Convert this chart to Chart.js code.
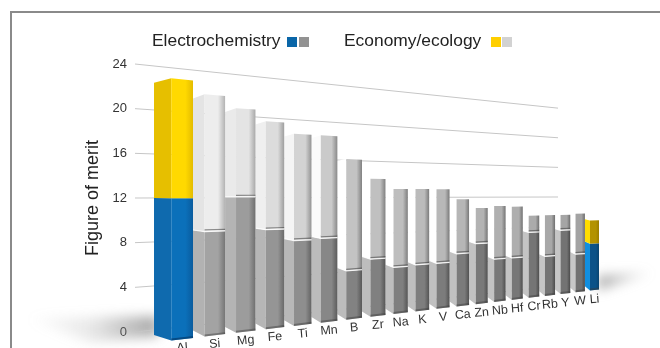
<!DOCTYPE html>
<html>
<head>
<meta charset="utf-8">
<title>Figure of merit</title>
<script src="https://cdn.jsdelivr.net/npm/chart.js@4"></script>
<style>
    html, body { margin: 0; padding: 0; background: #fff; overflow: hidden; }
    canvas { display: block; }
</style>
</head>
<body>
<canvas id="merit_chart" width="660" height="348"></canvas>
<script>
var elements = ['Al', 'Si', 'Mg', 'Fe', 'Ti', 'Mn', 'B', 'Zr', 'Na', 'K', 'V', 'Ca', 'Zn', 'Nb', 'Hf', 'Cr', 'Rb', 'Y', 'W', 'Li'];
var electrochemistry = [12, 9.1, 12.1, 9.1, 8, 8.1, 4.8, 5.8, 4.8, 4.9, 4.9, 5.8, 6.8, 4.9, 4.9, 7.8, 4.8, 7.9, 4.8, 6];
var economy_ecology = [10.1, 11.9, 7.9, 9.9, 10, 9.9, 11, 8.1, 8.1, 8, 8, 6, 4, 6.1, 6, 2, 5, 1.9, 5.1, 3];
var y_ticks_max = 24;
var y_ticks_step = 4;

// perspective: every line runs to one vanishing point on the right
var vanish = { x: 1390, y: 195 };
var wall_left = 135;
var front_scale = 1.094;
var back_edge_scale = 0.948;
var first_right = 193;
var last_right = 599;
var squeeze = 0.545;

function gray(v) {
    v = Math.round(v);
    return 'rgb(' + v + ',' + v + ',' + v + ')';
}

// three gray levels: first bar, around B, last bar
function shade(a, b, c, t) {
    if (t < 0.3) return a + (b - a) * t / 0.3;
    return b + (c - b) * (t - 0.3) / 0.7;
}

function faceColors(i, upper) {
    var t = i / (elements.length - 1);
    if (i == 0) {
        return upper ? { side: '#e6bf00', from: '#ffd900', to: '#e4bc00' }
                     : { side: '#0f6aae', from: '#0b70ba', to: '#0a5c9e' };
    }
    if (i == elements.length - 1) {
        return upper ? { side: '#ffdd00', from: '#b39200', to: '#9a7c00' }
                     : { side: '#118fe0', from: '#0c5288', to: '#0a446f' };
    }
    if (upper) {
        return { side: gray(shade(222, 255, 255, t)), from: gray(shade(246, 196, 160, t)), to: gray(shade(190, 130, 105, t)) };
    }
    return { side: gray(shade(176, 188, 200, t)), from: gray(shade(170, 130, 112, t)), to: gray(shade(124, 88, 72, t)) };
}

var perspective_plugin = {
    id: 'perspective',
    beforeDraw: function (chart) {
        var ctx = chart.ctx;
        ctx.save();
        // panel frame, open on the right and at the bottom
        ctx.strokeStyle = '#8a8a8a';
        ctx.lineWidth = 2;
        ctx.beginPath();
        ctx.moveTo(11, 348);
        ctx.lineTo(11, 12);
        ctx.lineTo(660, 12);
        ctx.stroke();
        ctx.restore();
    },
    beforeDatasetsDraw: function (chart) {
        var ctx = chart.ctx;
        var area = chart.chartArea;
        var y_scale = chart.scales.y;
        var metas = [chart.getDatasetMeta(0), chart.getDatasetMeta(1)];
        var step = metas[0].data[0].width;
        var origin = area.left + step;

        function screenX(px) {
            var u = (px - origin) / (area.right - origin);
            return first_right + (last_right - first_right) * u * (1 + squeeze) / (1 + squeeze * u);
        }
        function wallY(py, x) {
            return vanish.y + (py - vanish.y) * (vanish.x - x) / (vanish.x - wall_left);
        }
        function frontY(py, x, k) {
            return vanish.y + (py - vanish.y) * (vanish.x - x) / (vanish.x - wall_left) * front_scale * (k || 1);
        }

        // soft floor shadows at both ends of the row
        ctx.save();
        ctx.filter = 'blur(6px)';
        var left_shadow = ctx.createLinearGradient(25, 0, 158, 0);
        left_shadow.addColorStop(0, 'rgba(130,130,130,0)');
        left_shadow.addColorStop(0.5, 'rgba(130,130,130,0.18)');
        left_shadow.addColorStop(1, 'rgba(130,130,130,0.7)');
        ctx.fillStyle = left_shadow;
        ctx.beginPath();
        ctx.moveTo(25, 318);
        ctx.lineTo(158, 316);
        ctx.lineTo(158, 336);
        ctx.lineTo(90, 342);
        ctx.closePath();
        ctx.fill();
        var right_shadow = ctx.createLinearGradient(598, 0, 655, 0);
        right_shadow.addColorStop(0, 'rgba(120,120,120,0.65)');
        right_shadow.addColorStop(1, 'rgba(120,120,120,0)');
        ctx.fillStyle = right_shadow;
        ctx.beginPath();
        ctx.moveTo(598, 276);
        ctx.lineTo(655, 272);
        ctx.lineTo(598, 290);
        ctx.closePath();
        ctx.fill();
        ctx.restore();

        // gridlines on the back wall
        ctx.save();
        ctx.strokeStyle = '#c6c6c6';
        ctx.lineWidth = 1;
        y_scale.ticks.forEach(function (tick) {
            var py = y_scale.getPixelForValue(tick.value);
            ctx.beginPath();
            ctx.moveTo(wall_left, wallY(py, wall_left));
            ctx.lineTo(558, wallY(py, 558));
            ctx.stroke();
        });
        ctx.restore();

        function drawBlock(el, i, upper) {
            var left = screenX(el.x - el.width / 2);
            var right = screenX(el.x + el.width / 2);
            var corner = left + (right - left) * 0.36;
            if (i == 0) left -= 5;
            var c = faceColors(i, upper);

            ctx.fillStyle = c.side;
            ctx.beginPath();
            ctx.moveTo(left, frontY(el.y, left, back_edge_scale));
            ctx.lineTo(corner, frontY(el.y, corner));
            ctx.lineTo(corner, frontY(el.base, corner));
            ctx.lineTo(left, frontY(el.base, left, back_edge_scale));
            ctx.closePath();
            ctx.fill();

            var grad = ctx.createLinearGradient(corner, 0, right, 0);
            grad.addColorStop(0, c.from);
            grad.addColorStop(0.65, c.from);
            grad.addColorStop(1, c.to);
            ctx.fillStyle = grad;
            ctx.beginPath();
            ctx.moveTo(corner, frontY(el.y, corner));
            ctx.lineTo(right, frontY(el.y, right));
            ctx.lineTo(right, frontY(el.base, right));
            ctx.lineTo(corner, frontY(el.base, corner));
            ctx.closePath();
            ctx.fill();

            // seam where the lower block meets the upper one
            if (upper && i > 0 && i < elements.length - 1) {
                ctx.lineWidth = 1.2;
                ctx.strokeStyle = 'rgba(60,60,60,0.55)';
                ctx.beginPath();
                ctx.moveTo(corner, frontY(el.base, corner) - 1.6);
                ctx.lineTo(right, frontY(el.base, right) - 1.6);
                ctx.stroke();
                ctx.strokeStyle = 'rgba(255,255,255,0.85)';
                ctx.beginPath();
                ctx.moveTo(left, frontY(el.base, left, back_edge_scale));
                ctx.lineTo(corner, frontY(el.base, corner));
                ctx.lineTo(right, frontY(el.base, right));
                ctx.stroke();
            }
            // dark foot of the bar
            if (!upper) {
                ctx.lineWidth = 2;
                ctx.strokeStyle = i == 0 ? 'rgba(4,60,110,0.7)' : 'rgba(60,60,60,0.45)';
                ctx.beginPath();
                ctx.moveTo(corner, frontY(el.base, corner) - 1);
                ctx.lineTo(right, frontY(el.base, right) - 1);
                ctx.stroke();
            }
        }

        // back to front, so the nearer bars cover the ones behind
        for (var i = elements.length - 1; i >= 0; i--) {
            drawBlock(metas[0].data[i], i, false);
            drawBlock(metas[1].data[i], i, true);
        }

        // element names follow the foot of the row
        var x_scale = chart.scales.x;
        ctx.save();
        ctx.fillStyle = '#333';
        ctx.font = '12.5px "Liberation Sans"';
        ctx.textAlign = 'center';
        ctx.textBaseline = 'middle';
        metas[0].data.forEach(function (el, i) {
            var left = screenX(el.x - el.width / 2);
            var right = screenX(el.x + el.width / 2);
            var mid = (left + (right - left) * 0.36 + right) / 2;
            ctx.save();
            ctx.translate(mid, frontY(el.base, right) + 10);
            ctx.rotate(-0.08);
            ctx.fillText(x_scale.getLabelForValue(i), 0, 0);
            ctx.restore();
        });
        ctx.restore();
        return false;
    },
    afterDraw: function (chart) {
        var ctx = chart.ctx;
        ctx.save();
        ctx.fillStyle = '#222';
        ctx.font = '17.4px "Liberation Sans"';
        ctx.textBaseline = 'middle';
        ctx.fillText('Electrochemistry', 152, 41);
        ctx.fillText('Economy/ecology', 344, 41);
        ctx.fillStyle = '#0a66a8'; ctx.fillRect(287, 37, 10, 10);
        ctx.fillStyle = '#929292'; ctx.fillRect(299, 37, 10, 10);
        ctx.fillStyle = '#ffcf00'; ctx.fillRect(491, 37, 10, 10);
        ctx.fillStyle = '#d2d2d2'; ctx.fillRect(502, 37, 10, 10);
        ctx.restore();
    }
};

var merit_chart = new Chart(document.getElementById('merit_chart'), {
    type: 'bar',
    data: {
        labels: elements,
        datasets: [{
            label: 'Electrochemistry',
            data: electrochemistry,
            backgroundColor: '#0a66a8',
            barPercentage: 1,
            categoryPercentage: 1,
        },
        {
            label: 'Economy/ecology',
            data: economy_ecology,
            backgroundColor: '#ffcf00',
            barPercentage: 1,
            categoryPercentage: 1,
        }]
    },
    plugins: [perspective_plugin],
    options: {
        responsive: false,
        animation: false,
        layout: {
            padding: { left: 82, right: 60, top: 64, bottom: 16 }
        },
        plugins: {
            legend: { display: false },
            tooltip: { enabled: false },
        },
        scales: {
            x: {
                stacked: true,
                display: false,
            },
            y: {
                stacked: true,
                beginAtZero: true,
                min: 0,
                max: y_ticks_max,
                afterFit: function (scale) { scale.width = 53; },
                border: { display: false },
                grid: { display: false, drawTicks: false },
                ticks: {
                    stepSize: y_ticks_step,
                    padding: 8,
                    color: '#333',
                    font: { family: '"Liberation Sans"', size: 13 },
                },
                title: {
                    display: true,
                    text: 'Figure of merit',
                    color: '#222',
                    padding: 0,
                    font: { family: '"Liberation Sans"', size: 18 },
                },
            }
        }
    }
});
</script>
</body>
</html>
